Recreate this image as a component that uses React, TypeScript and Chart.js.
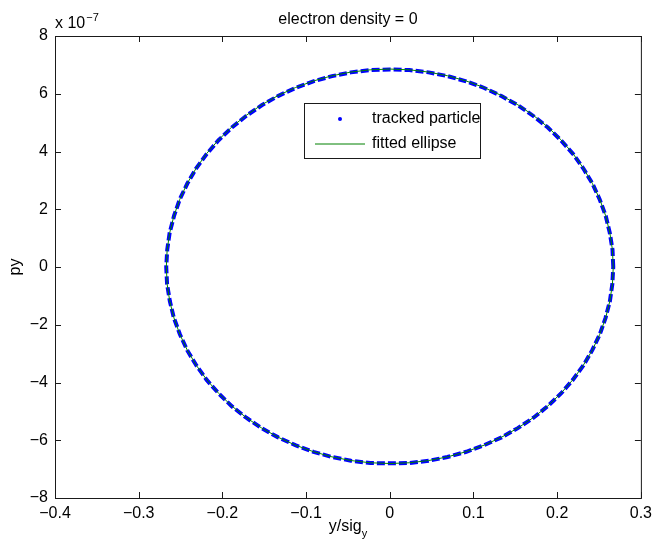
import React, { useEffect, useRef } from 'react';
import { Chart, registerables } from 'chart.js';

Chart.register(...registerables);

// Phase-space samples of the tracked particle: y/sig_y and py (py in units of 1e-7)
const TRACKED_Y = [
  0.267, 0.2661, 0.2628, 0.258, 0.2508, 0.2421, 0.2311, 0.2188, 0.2044, 0.1889, 0.1715, 0.1532, 0.1334, 0.1129, 0.0912, 0.0692, 0.0463, 0.0234, 0.0001,
  -0.0232, -0.0465, -0.069, -0.0914, -0.1127, -0.1336, -0.153, -0.1717, -0.1887, -0.2046, -0.2186, -0.2313, -0.2419, -0.251, -0.2578, -0.263, -0.2659, -0.2671,
  -0.2661, -0.2628, -0.258, -0.2508, -0.2421, -0.2311, -0.2188, -0.2044, -0.1889, -0.1715, -0.1532, -0.1334, -0.1129, -0.0912, -0.0692, -0.0463, -0.0234, -0.0001,
  0.0232, 0.0465, 0.069, 0.0914, 0.1127, 0.1336, 0.153, 0.1717, 0.1887, 0.2046, 0.2186, 0.2313, 0.2419, 0.251, 0.2578, 0.263, 0.2659, 0.267,
];
const TRACKED_PY = [
  0.0, 0.6, 1.19, 1.77, 2.34, 2.89, 3.42, 3.92, 4.39, 4.83, 5.23, 5.6, 5.92, 6.2, 6.43, 6.61, 6.74, 6.82, 6.84,
  6.82, 6.74, 6.61, 6.43, 6.2, 5.92, 5.6, 5.23, 4.83, 4.39, 3.92, 3.42, 2.89, 2.34, 1.77, 1.19, 0.6, 0.0,
  -0.59, -1.18, -1.76, -2.33, -2.88, -3.41, -3.91, -4.38, -4.82, -5.22, -5.58, -5.9, -6.17, -6.4, -6.58, -6.71, -6.79, -6.8,
  -6.79, -6.71, -6.58, -6.4, -6.17, -5.9, -5.58, -5.22, -4.82, -4.38, -3.91, -3.41, -2.88, -2.33, -1.76, -1.18, -0.59, 0.0,
];

// Fitted ellipse through the same turns
const FIT_Y = [
  0.267, 0.266, 0.2629, 0.2579, 0.2509, 0.242, 0.2312, 0.2187, 0.2045, 0.1888, 0.1716, 0.1531, 0.1335, 0.1128, 0.0913, 0.0691, 0.0464, 0.0233, 0,
  -0.0233, -0.0464, -0.0691, -0.0913, -0.1128, -0.1335, -0.1531, -0.1716, -0.1888, -0.2045, -0.2187, -0.2312, -0.242, -0.2509, -0.2579, -0.2629, -0.266, -0.267,
  -0.266, -0.2629, -0.2579, -0.2509, -0.242, -0.2312, -0.2187, -0.2045, -0.1888, -0.1716, -0.1531, -0.1335, -0.1128, -0.0913, -0.0691, -0.0464, -0.0233, 0,
  0.0233, 0.0464, 0.0691, 0.0913, 0.1128, 0.1335, 0.1531, 0.1716, 0.1888, 0.2045, 0.2187, 0.2312, 0.242, 0.2509, 0.2579, 0.2629, 0.266, 0.267,
];
const FIT_PY = [
  0, 0.597, 1.19, 1.774, 2.345, 2.897, 3.428, 3.933, 4.407, 4.847, 5.251, 5.616, 5.937, 6.213, 6.442, 6.622, 6.751, 6.829, 6.855,
  6.829, 6.751, 6.622, 6.442, 6.213, 5.937, 5.616, 5.251, 4.847, 4.407, 3.933, 3.428, 2.897, 2.345, 1.774, 1.19, 0.597, 0,
  -0.593, -1.182, -1.762, -2.329, -2.877, -3.404, -3.905, -4.376, -4.813, -5.214, -5.576, -5.895, -6.169, -6.396, -6.575, -6.703, -6.78, -6.806,
  -6.78, -6.703, -6.575, -6.396, -6.169, -5.895, -5.576, -5.214, -4.813, -4.376, -3.905, -3.404, -2.877, -2.329, -1.762, -1.182, -0.593, 0,
];

const X_TICKS = [-0.4, -0.3, -0.2, -0.1, 0, 0.1, 0.2, 0.3];
const Y_TICKS = [-8, -6, -4, -2, 0, 2, 4, 6, 8];
const PY_EXPONENT = '\u22127';

const TITLE = 'electron density = 0';
const X_LABEL = 'y/sig';
const X_LABEL_SUB = 'y';
const Y_LABEL = 'py';
const SERIES_NAMES = ['tracked particle', 'fitted ellipse'];

const FONT_FAMILY = '"Liberation Sans", Arial, Helvetica, sans-serif';
const FONT_SIZE = 16;
const BLUE = '#0000ff';
const GREEN = '#008000';
const INK = '#1a1a1a';

const fmt = (v: number) => {
  const n = parseFloat(Math.abs(v).toFixed(1));
  return (v < -1e-9 ? '\u2212' : '') + String(n);
};

const decorations = {
  id: 'decorations',
  afterDraw(chart: any) {
    const { ctx, chartArea, scales } = chart;
    const { left, right, top, bottom } = chartArea;
    const xs = scales.x;
    const ys = scales.y;
    ctx.save();

    // axes box
    ctx.strokeStyle = INK;
    ctx.lineWidth = 1;
    ctx.strokeRect(left + 0.5, top + 0.5, right - left, bottom - top);

    // inward tick marks on all four sides
    const tl = 6;
    ctx.beginPath();
    X_TICKS.forEach((v) => {
      const px = Math.round(xs.getPixelForValue(v)) + 0.5;
      ctx.moveTo(px, bottom);
      ctx.lineTo(px, bottom - tl);
      ctx.moveTo(px, top);
      ctx.lineTo(px, top + tl);
    });
    Y_TICKS.forEach((v) => {
      const py = Math.round(ys.getPixelForValue(v)) + 0.5;
      ctx.moveTo(left, py);
      ctx.lineTo(left + tl, py);
      ctx.moveTo(right, py);
      ctx.lineTo(right - tl, py);
    });
    ctx.stroke();

    ctx.fillStyle = '#000';
    ctx.textBaseline = 'alphabetic';
    const big = `${FONT_SIZE}px ${FONT_FAMILY}`;

    // title
    ctx.font = big;
    ctx.textAlign = 'center';
    ctx.fillText(TITLE, (left + right) / 2, 24);

    // exponent of the py axis
    ctx.textAlign = 'left';
    ctx.font = big;
    const base = 'x 10';
    ctx.fillText(base, left, 28);
    const bw = ctx.measureText(base).width;
    ctx.font = `11px ${FONT_FAMILY}`;
    ctx.fillText(PY_EXPONENT, left + bw + 1, 21);

    // x axis title with subscript
    ctx.font = big;
    const mw = ctx.measureText(X_LABEL).width;
    ctx.font = `11px ${FONT_FAMILY}`;
    const sw = ctx.measureText(X_LABEL_SUB).width;
    const startX = (left + right) / 2 - (mw + sw) / 2;
    ctx.font = big;
    ctx.fillText(X_LABEL, startX, 531);
    ctx.font = `11px ${FONT_FAMILY}`;
    ctx.fillText(X_LABEL_SUB, startX + mw, 537);

    // y axis title
    ctx.save();
    ctx.translate(20, (top + bottom) / 2);
    ctx.rotate(-Math.PI / 2);
    ctx.font = big;
    ctx.textAlign = 'center';
    ctx.fillText(Y_LABEL, 0, 0);
    ctx.restore();

    // legend
    const lx = 304.5, ly = 103.5, lw = 176, lh = 55;
    ctx.fillStyle = '#fff';
    ctx.fillRect(lx, ly, lw, lh);
    ctx.strokeStyle = INK;
    ctx.strokeRect(lx, ly, lw, lh);
    ctx.fillStyle = BLUE;
    ctx.beginPath();
    ctx.arc(340, 119, 2, 0, Math.PI * 2);
    ctx.fill();
    ctx.strokeStyle = GREEN;
    ctx.beginPath();
    ctx.moveTo(315, 144);
    ctx.lineTo(365, 144);
    ctx.stroke();
    ctx.fillStyle = '#000';
    ctx.font = big;
    ctx.textAlign = 'left';
    ctx.textBaseline = 'middle';
    ctx.fillText(SERIES_NAMES[0], 372, 119);
    ctx.fillText(SERIES_NAMES[1], 372, 144);

    ctx.restore();
  },
};

export default function App() {
  const canvasRef = useRef<HTMLCanvasElement | null>(null);

  useEffect(() => {
    const canvas = canvasRef.current;
    if (!canvas) return;
    const chart = new Chart(canvas, {
      type: 'scatter',
      data: {
        datasets: [
          {
            label: SERIES_NAMES[0],
            data: TRACKED_Y.map((v, i) => ({ x: v, y: TRACKED_PY[i] })),
            showLine: true,
            borderColor: BLUE,
            backgroundColor: BLUE,
            borderWidth: 4,
            borderDash: [8, 3],
            pointRadius: 0,
            order: 1,
          },
          {
            label: SERIES_NAMES[1],
            data: FIT_Y.map((v, i) => ({ x: v, y: FIT_PY[i] })),
            showLine: true,
            borderColor: GREEN,
            backgroundColor: GREEN,
            borderWidth: 1,
            pointRadius: 0,
            order: 0,
          },
        ],
      },
      options: {
        animation: false,
        responsive: false,
        devicePixelRatio: 1,
        layout: { padding: { top: 36, right: 15, left: 0, bottom: 0 } },
        plugins: {
          legend: { display: false },
          tooltip: { enabled: false },
          title: { display: false },
        },
        scales: {
          x: {
            type: 'linear',
            min: -0.4,
            max: 0.3,
            grid: { display: false, drawTicks: false },
            border: { display: false },
            afterBuildTicks: (scale: any) => {
              scale.ticks = X_TICKS.map((value) => ({ value }));
            },
            afterFit: (scale: any) => {
              scale.height = 45;
            },
            ticks: {
              autoSkip: false,
              maxRotation: 0,
              padding: 6,
              color: '#000',
              font: { size: FONT_SIZE, family: FONT_FAMILY },
              callback: (v: any) => fmt(Number(v)),
            },
          },
          y: {
            type: 'linear',
            min: -8,
            max: 8,
            grid: { display: false, drawTicks: false },
            border: { display: false },
            afterBuildTicks: (scale: any) => {
              scale.ticks = Y_TICKS.map((value) => ({ value }));
            },
            afterFit: (scale: any) => {
              scale.width = 55;
            },
            ticks: {
              autoSkip: false,
              padding: 7,
              color: '#000',
              font: { size: FONT_SIZE, family: FONT_FAMILY },
              callback: (v: any) => fmt(Number(v)),
            },
          },
        },
      },
      plugins: [decorations],
    } as any);
    return () => chart.destroy();
  }, []);

  return (
    <div style={{ position: 'absolute', left: 0, top: 0, width: 658, height: 543, background: '#fff' }}>
      <canvas ref={canvasRef} width={658} height={543} style={{ display: 'block' }} />
    </div>
  );
}
